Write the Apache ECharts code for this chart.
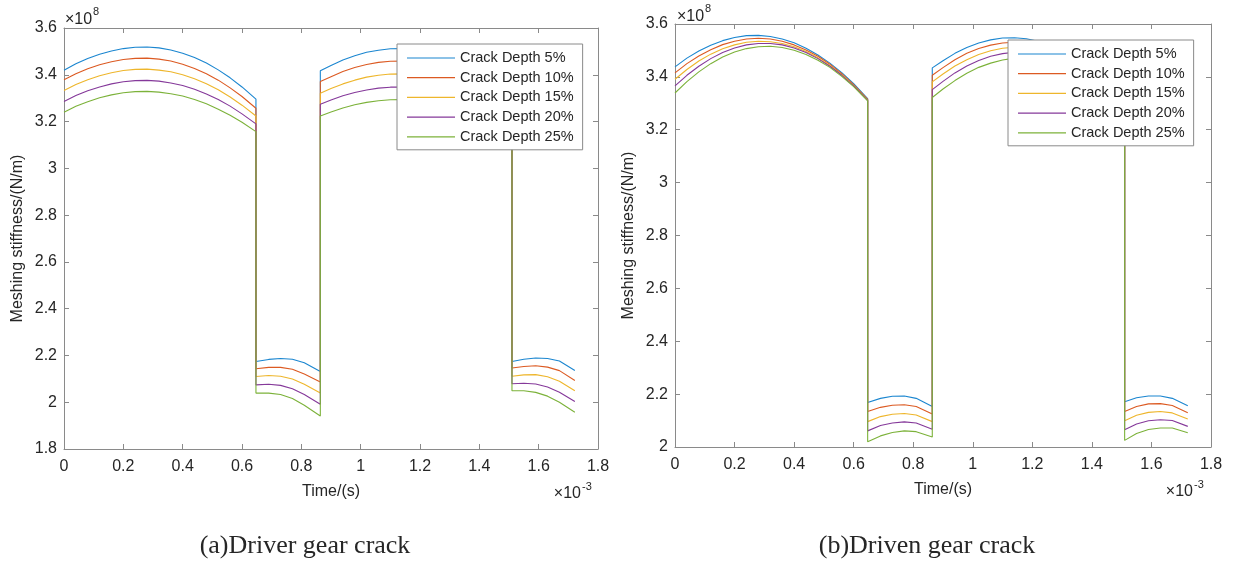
<!DOCTYPE html>
<html>
<head>
<meta charset="utf-8">
<script src="https://cdn.jsdelivr.net/npm/echarts@6/dist/echarts.min.js"></script>
<style>
html,body{margin:0;padding:0;background:#fff;}
#chart{width:1233px;height:563px;}
</style>
</head>
<body>
<div id="chart"></div>
<script>
// Time in units of 1e-3 s (as printed on the axis)
const timeVals = [0, 0.04, 0.08, 0.12, 0.16, 0.20, 0.24, 0.28, 0.32, 0.36, 0.40, 0.44, 0.48, 0.52, 0.56, 0.60, 0.647,
  0.647, 0.69, 0.73, 0.77, 0.81, 0.864,
  0.864, 0.90, 0.94, 0.98, 1.02, 1.06, 1.10, 1.14, 1.18, 1.22, 1.26, 1.30, 1.34, 1.38, 1.42, 1.46, 1.51,
  1.51, 1.55, 1.59, 1.63, 1.67, 1.722];

const seriesNames = ['Crack Depth 5%', 'Crack Depth 10%', 'Crack Depth 15%', 'Crack Depth 20%', 'Crack Depth 25%'];

// (a) Driver gear crack, stiffness in units of 1e8 N/m
const driver5 = [3.419, 3.447, 3.470, 3.488, 3.502, 3.512, 3.518, 3.519, 3.515, 3.506, 3.492, 3.474, 3.450, 3.421, 3.387, 3.348, 3.296,
  2.174, 2.183, 2.187, 2.184, 2.169, 2.131,
  3.417, 3.440, 3.463, 3.481, 3.496, 3.505, 3.511, 3.512, 3.508, 3.500, 3.486, 3.468, 3.444, 3.416, 3.382, 3.344, 3.290,
  2.174, 2.184, 2.189, 2.187, 2.176, 2.136];
const driver10 = [3.379, 3.404, 3.426, 3.443, 3.456, 3.465, 3.470, 3.471, 3.467, 3.459, 3.445, 3.427, 3.404, 3.377, 3.344, 3.307, 3.257,
  2.143, 2.149, 2.149, 2.141, 2.121, 2.086,
  3.371, 3.392, 3.414, 3.431, 3.444, 3.453, 3.458, 3.459, 3.455, 3.447, 3.434, 3.416, 3.394, 3.367, 3.335, 3.298, 3.245,
  2.146, 2.153, 2.156, 2.150, 2.135, 2.093];
const driver15 = [3.333, 3.358, 3.379, 3.396, 3.409, 3.418, 3.423, 3.424, 3.420, 3.413, 3.400, 3.383, 3.362, 3.336, 3.305, 3.270, 3.224,
  2.110, 2.114, 2.111, 2.099, 2.077, 2.039,
  3.321, 3.341, 3.361, 3.377, 3.390, 3.398, 3.403, 3.404, 3.400, 3.393, 3.380, 3.363, 3.342, 3.316, 3.285, 3.250, 3.200,
  2.111, 2.117, 2.118, 2.109, 2.090, 2.049];
const driver20 = [3.286, 3.311, 3.332, 3.348, 3.361, 3.370, 3.375, 3.376, 3.373, 3.365, 3.354, 3.338, 3.318, 3.294, 3.266, 3.233, 3.190,
  2.074, 2.077, 2.072, 2.058, 2.033, 1.991,
  3.274, 3.292, 3.310, 3.324, 3.335, 3.343, 3.347, 3.348, 3.345, 3.337, 3.325, 3.309, 3.289, 3.264, 3.235, 3.202, 3.155,
  2.079, 2.081, 2.078, 2.065, 2.043, 2.003];
const driver25 = [3.240, 3.265, 3.285, 3.302, 3.314, 3.323, 3.328, 3.329, 3.326, 3.319, 3.309, 3.294, 3.276, 3.253, 3.227, 3.197, 3.157,
  2.039, 2.039, 2.033, 2.016, 1.987, 1.941,
  3.224, 3.241, 3.258, 3.272, 3.282, 3.289, 3.293, 3.294, 3.291, 3.284, 3.273, 3.257, 3.238, 3.215, 3.187, 3.156, 3.110,
  2.049, 2.049, 2.042, 2.026, 2.000, 1.957];

// (b) Driven gear crack
const driven5 = [3.438, 3.471, 3.498, 3.520, 3.537, 3.549, 3.556, 3.557, 3.553, 3.543, 3.529, 3.508, 3.483, 3.452, 3.416, 3.374, 3.318,
  2.168, 2.184, 2.192, 2.193, 2.184, 2.153,
  3.434, 3.461, 3.489, 3.511, 3.528, 3.540, 3.547, 3.548, 3.544, 3.535, 3.521, 3.502, 3.478, 3.449, 3.415, 3.376, 3.320,
  2.171, 2.186, 2.193, 2.193, 2.184, 2.156];
const driven10 = [3.415, 3.450, 3.479, 3.503, 3.522, 3.535, 3.543, 3.546, 3.543, 3.535, 3.521, 3.502, 3.478, 3.448, 3.412, 3.371, 3.315,
  2.134, 2.150, 2.158, 2.160, 2.153, 2.125,
  3.406, 3.435, 3.465, 3.489, 3.507, 3.520, 3.528, 3.531, 3.528, 3.521, 3.508, 3.490, 3.467, 3.438, 3.405, 3.366, 3.310,
  2.134, 2.153, 2.163, 2.164, 2.157, 2.130];
const driven15 = [3.391, 3.428, 3.460, 3.486, 3.506, 3.521, 3.531, 3.535, 3.533, 3.526, 3.514, 3.496, 3.472, 3.443, 3.408, 3.368, 3.313,
  2.096, 2.115, 2.124, 2.127, 2.121, 2.096,
  3.381, 3.411, 3.441, 3.465, 3.485, 3.499, 3.508, 3.512, 3.511, 3.504, 3.492, 3.475, 3.453, 3.425, 3.392, 3.354, 3.300,
  2.099, 2.120, 2.131, 2.134, 2.129, 2.106];
const driven20 = [3.366, 3.406, 3.440, 3.469, 3.492, 3.509, 3.521, 3.526, 3.526, 3.521, 3.509, 3.492, 3.469, 3.440, 3.406, 3.366, 3.311,
  2.061, 2.081, 2.091, 2.095, 2.091, 2.067,
  3.352, 3.383, 3.415, 3.441, 3.462, 3.478, 3.488, 3.493, 3.493, 3.488, 3.477, 3.461, 3.440, 3.413, 3.381, 3.344, 3.290,
  2.065, 2.087, 2.099, 2.103, 2.100, 2.078];
const driven25 = [3.339, 3.382, 3.419, 3.450, 3.475, 3.494, 3.507, 3.514, 3.516, 3.511, 3.501, 3.485, 3.463, 3.436, 3.402, 3.363, 3.309,
  2.020, 2.042, 2.055, 2.061, 2.058, 2.038,
  3.322, 3.354, 3.386, 3.414, 3.436, 3.452, 3.464, 3.471, 3.472, 3.468, 3.459, 3.444, 3.424, 3.399, 3.368, 3.332, 3.280,
  2.025, 2.051, 2.066, 2.072, 2.072, 2.054];

const colors = ['#1b86d0', '#dc5a22', '#eeb62c', '#85399a', '#7cb23a'];

const driverSets = [driver5, driver10, driver15, driver20, driver25];
const drivenSets = [driven5, driven10, driven15, driven20, driven25];

const FONT = '"Liberation Sans", Arial, sans-serif';
const TXT = '#262626';
const LINE = '#8a8a8a';

function fmt(v) { return String(parseFloat(v.toFixed(1))); }

function xAxis(gridIndex, top) {
  return {
    type: 'value', gridIndex: gridIndex, min: 0, max: 1.8, interval: 0.2,
    position: top ? 'top' : 'bottom',
    name: top ? '' : 'Time/(s)', nameLocation: 'middle', nameGap: 35,
    nameTextStyle: { fontFamily: FONT, fontSize: 16, color: TXT },
    axisLine: { show: true, onZero: false, lineStyle: { color: LINE, width: 1 } },
    axisTick: { show: true, inside: true, length: 5, lineStyle: { color: LINE } },
    axisLabel: { show: !top, fontFamily: FONT, fontSize: 16, color: TXT, margin: 10, formatter: fmt },
    splitLine: { show: false }
  };
}
function yAxis(gridIndex, right, min) {
  return {
    type: 'value', gridIndex: gridIndex, min: min, max: 3.6, interval: 0.2,
    position: right ? 'right' : 'left',
    name: right ? '' : 'Meshing stiffness/(N/m)', nameLocation: 'middle', nameGap: 38,
    nameTextStyle: { fontFamily: FONT, fontSize: 16, color: TXT },
    axisLine: { show: true, onZero: false, lineStyle: { color: LINE, width: 1 } },
    axisTick: { show: true, inside: true, length: 5, lineStyle: { color: LINE } },
    axisLabel: { show: !right, fontFamily: FONT, fontSize: 16, color: TXT, margin: 7, formatter: fmt },
    splitLine: { show: false }
  };
}

const series = [];
function addSeries(sets, xIdx, yIdx) {
  sets.forEach(function (vals, i) {
    series.push({
      type: 'line', name: seriesNames[i], xAxisIndex: xIdx, yAxisIndex: yIdx,
      data: vals.map(function (v, k) { return [timeVals[k], v]; }),
      symbol: 'none', smooth: false, color: colors[i],
      lineStyle: { width: 1.1, color: colors[i] }
    });
  });
}
addSeries(driverSets, 0, 0);
addSeries(drivenSets, 2, 2);

function legend(left, top) {
  return {
    data: seriesNames, orient: 'vertical', left: left, top: top,
    icon: 'rect', itemWidth: 48, itemHeight: 1.2, itemGap: 3.7,
    padding: [6, 9, 5, 10],
    borderColor: '#8a8a8a', borderWidth: 1, backgroundColor: '#fff',
    textStyle: { fontFamily: FONT, fontSize: 14.5, color: TXT, lineHeight: 16 }
  };
}

function txt(x, y, text, size, align, family) {
  return { type: 'text', x: x, y: y, style: { text: text, fontSize: size, fontFamily: family || FONT, fill: TXT, align: align || 'left', verticalAlign: 'middle' } };
}

const option = {
  animation: false,
  backgroundColor: '#fff',
  grid: [
    { left: 64, right: 635, top: 28, bottom: 114 },
    { left: 675, right: 22, top: 24, bottom: 116 }
  ],
  xAxis: [xAxis(0, false), xAxis(0, true), xAxis(1, false), xAxis(1, true)],
  yAxis: [yAxis(0, false, 1.8), yAxis(0, true, 1.8), yAxis(1, false, 2.0), yAxis(1, true, 2.0)],
  legend: [legend(397, 44), legend(1008, 40)],
  series: series,
  graphic: [
    txt(65, 20, '×10', 16, 'left'),
    txt(93, 12, '8', 11, 'left'),
    txt(677, 17, '×10', 16, 'left'),
    txt(705, 9, '8', 11, 'left'),
    txt(581, 494, '×10', 16, 'right'),
    txt(582, 487, '-3', 11, 'left'),
    txt(1193, 492, '×10', 16, 'right'),
    txt(1194, 485, '-3', 11, 'left'),
    txt(305, 546, '(a)Driver gear crack', 26, 'center', '"Liberation Serif", "Times New Roman", serif'),
    txt(927, 546, '(b)Driven gear crack', 26, 'center', '"Liberation Serif", "Times New Roman", serif')
  ]
};

const chart = echarts.init(document.getElementById('chart'), null, { renderer: 'canvas' });
chart.setOption(option);
</script>
</body>
</html>
